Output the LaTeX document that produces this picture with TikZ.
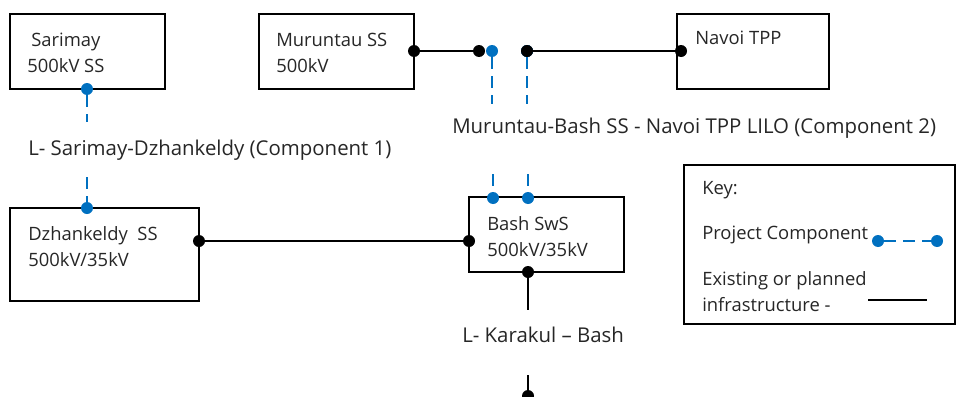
\documentclass[tikz,border=0pt]{standalone}
\usepackage{fontspec}
\setmainfont{Open Sans}
\definecolor{compblue}{HTML}{0070C0}

\begin{document}
\begin{tikzpicture}
[x=.75pt,y=-.75pt,every node/.style={inner sep=0,text=black!85,font=\fontsize{13.8}{19.5}\selectfont},
box/.style={draw,line width=.9pt,minimum width=116.25pt,minimum height=56.25pt},
dot/.style={circle,fill=black,minimum size=9pt},
cdot/.style={circle,fill=compblue,minimum size=9pt},
txt/.style={anchor=west,align=left},
linelbl/.style={anchor=west,font=\fontsize{15.3}{19}\selectfont},
line/.style={line width=2.1pt},
cline/.style={compblue,line width=2pt,dash pattern=on 9pt off 5.25pt}]
\useasboundingbox (0,0) rectangle (956,396);
\node[box] (sar) at (87.5,51.5) {};
\node[box] (mur) at (336.5,51.5) {};
\node[box,minimum width=114pt] (nav) at (753,51.5) {};
\node[box,minimum width=141.75pt,minimum height=69.75pt] (dzh) at (104.5,254.5) {};
\node[box] (bash) at (546.5,234.5) {};
\node[box,minimum width=203.25pt,minimum height=119.25pt] (key) at (819.5,244.5) {};
\node[txt] (sart) at (27,53) {\hspace{3pt}Sarimay\\500kV SS};
\node[txt] (murt) at (276,52.5) {Muruntau SS\\500kV};
\node[txt] (navt) at (695,38) {Navoi TPP};
\node[txt] (dzht) at (28,247) {Dzhankeldy\ \ SS\\500kV/35kV};
\node[txt] (basht) at (487,236.5) {Bash SwS\\500kV/35kV};
\node[linelbl] (l1) at (28,150) {L- Sarimay-Dzhankeldy (Component 1)};
\node[linelbl] (l2) at (452,128) {Muruntau-Bash SS - Navoi TPP LILO (Component 2)};
\node[linelbl] (l3) at (462,335) {L- Karakul -- Bash};
\node[txt] (keyt) at (702,190) {Key:};
\node[txt] (pct) at (702,235) {Project Component};
\node[txt] (ext) at (702,291.5) {Existing or planned\\infrastructure -};
\node[dot] (mr) at (414,51) {};
\node[dot] (mj) at (479,51) {};
\node[dot] (nj) at (527,51) {};
\node[dot] (nv) at (681,51) {};
\node[dot] (dr) at (199,241) {};
\node[dot] (bl) at (469,241) {};
\node[dot] (bb) at (528,272) {};
\node[dot] (kb) at (528,396) {};
\node[cdot] (s1) at (87,89) {};
\node[cdot] (s2) at (87,208) {};
\node[cdot] (u1) at (492,51) {};
\node[cdot] (u2) at (527,51) {};
\node[cdot] (b1) at (493,198) {};
\node[cdot] (b2) at (528,198) {};
\node[cdot] (k1) at (878,241) {};
\node[cdot] (k2) at (937,241) {};
\coordinate (s1e) at (87,122);
\coordinate (s2e) at (87,177);
\coordinate (u1e) at (492,104);
\coordinate (u2e) at (527,104);
\coordinate (b1e) at (493,174);
\coordinate (b2e) at (528,174);
\coordinate (bbe) at (528,310);
\coordinate (kbe) at (528,375);
\coordinate (ks1) at (868,300);
\coordinate (ks2) at (927,300);
\node[dot] at (nj) {};
\foreach \from/\to in {mr/mj,nj/nv,dr/bl,bb/bbe,kbe/kb,ks1/ks2}
\draw[line] (\from) -- (\to);
\foreach \from/\to in {s1/s1e,s2e/s2,u1/u1e,u2/u2e,b1e/b1,b2e/b2,k1/k2}
\draw[cline] (\from) -- (\to);
\end{tikzpicture}
\end{document}
